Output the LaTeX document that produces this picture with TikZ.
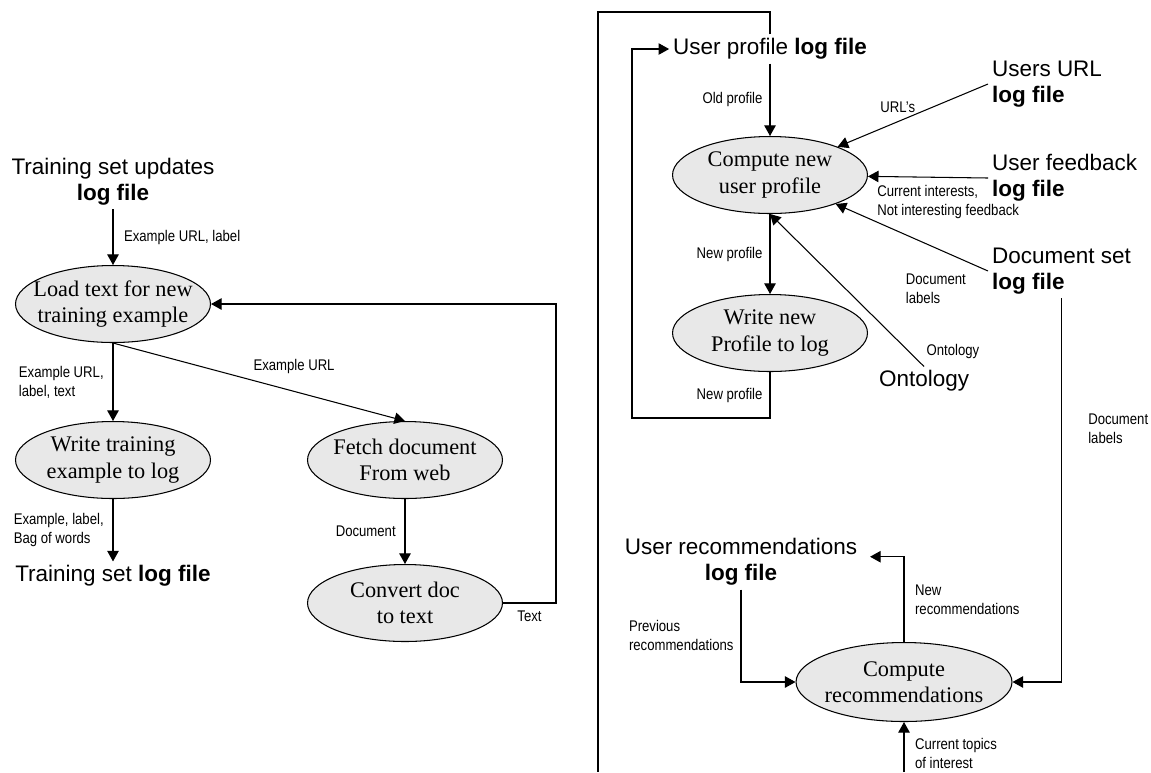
\documentclass[tikz,border=0pt]{standalone}
\usepackage{fontspec}
\setmainfont{Liberation Serif}
\newfontfamily\storefont{Liberation Sans}
\newfontfamily\flowfont[FakeStretch=0.85]{Liberation Sans}
\usetikzlibrary{shapes.geometric}
\usetikzlibrary{positioning}
\usetikzlibrary{arrows.meta}
\definecolor{procfill}{HTML}{E8E8E8}
\tikzset{
    proc/.style={
        ellipse,
        draw,
        fill=procfill,
        minimum width=3.9cm,
        minimum height=1.54cm,
        inner sep=0pt},
    proctext/.style={
        align=center,
        font=\fontsize{12.7}{15}\selectfont},
    store/.style={
        align=center,
        inner sep=2pt,
        font=\storefont\fontsize{12.8}{14.7}\selectfont},
    flow/.style={
        align=left,
        inner sep=1pt,
        font=\flowfont\fontsize{8.8}{10.8}\selectfont},
    every edge/.style={
        draw,
        ->,>={Triangle[length=6pt,width=6.5pt]},
        line width=0.6pt}}

\begin{document}
\begin{tikzpicture}[x=0.02cm,y=-0.02cm,line width=0.6pt,>={Triangle[length=6pt,width=6.5pt]}]
    \useasboundingbox (0,0) rectangle (1151,772);

    % training set side
    \node[store] (tsu) at (113,182) {Training set updates\\\textbf{log file}};
    \node[proc,label={[proctext]center:Load text for new\\training example}] (load) at (113,304) {};
    \node[proc,label={[proctext]center:Write training\\example to log}] (wtrain) at (113,460) {};
    \node[store] (tset) at (113,576) {Training set \textbf{log file}};
    \node[proc,label={[proctext]center:Fetch document\\From web}] (fetch) at (405,460) {};
    \node[proc,label={[proctext]center:Convert doc\\to text}] (convert) at (405,603) {};
    \coordinate (textr) at (556,304);

    \draw (tsu) edge node[flow,right=5pt] {Example URL, label} (load);
    \draw (load) edge node[flow,left=4pt] {Example URL,\\label, text} (wtrain);
    \draw (load.south) edge node[flow,pos=0.62,above=9pt] {Example URL} (fetch.north);
    \draw (wtrain) edge node[flow,left=4pt] {Example, label,\\Bag of words} (tset);
    \draw (fetch) edge node[flow,left=4pt] {Document} (convert);
    \draw[->] (convert.east) -| node[flow,pos=0.25,below=3pt] {Text} (textr) -- (load.east);

    % user profile side
    \coordinate (topl) at (598,12);
    \coordinate (botl) at (598,772);
    \coordinate (loopl) at (632,418);
    \coordinate (topics) at (904,772);
    \node[store] (upl) at (770,49) {User profile \textbf{log file}};
    \node[store,align=left,anchor=west] (uurl) at (988,84) {Users URL\\\textbf{log file}};
    \node[store,align=left,anchor=west] (ufb) at (988,178) {User feedback\\\textbf{log file}};
    \node[store,align=left,anchor=west] (dset) at (988,271) {Document set\\\textbf{log file}};
    \node[store] (onto) at (924,381) {Ontology};
    \node[proc,label={[proctext]center:Compute new\\user profile}] (cnew) at (770,175) {};
    \node[proc,label={[proctext]center:Write new\\Profile to log}] (wnew) at (770,333) {};
    \node[store] (urec) at (741,562) {User recommendations\\\textbf{log file}};
    \node[proc,minimum width=4.32cm,minimum height=1.58cm,
        label={[proctext]center:Compute\\recommendations}] (crec) at (904,682) {};

    \draw (upl.north) |- (topl) -- (botl);
    \draw (upl) edge node[flow,left=3pt] {Old profile} (cnew);
    \draw (uurl.west) edge node[flow,pos=0.6,above=4pt] {URL’s} (cnew);
    \draw (ufb.west) edge node[flow,pos=1,anchor=north west,xshift=4pt,yshift=-4pt] {Current interests,\\Not interesting feedback} (cnew);
    \draw (dset.west) edge node[flow,pos=0.25,below=10pt,xshift=-8pt] {Document\\labels} (cnew);
    \draw (onto.north) edge node[flow,pos=0.1,right=9pt] {Ontology} (cnew.south);
    \draw (cnew) edge node[flow,left=3pt] {New profile} (wnew);
    \draw[->] (wnew.south) |- node[flow,pos=0.25,left=3pt] {New profile} (loopl) |- (upl.west);
    \draw[->] (urec.south) |- node[flow,pos=0.25,left=3pt] {Previous\\recommendations} (crec.west);
    \draw[->] (crec.north) |- node[flow,pos=0.25,right=5pt] {New\\recommendations} ([xshift=5pt,yshift=3pt]urec.east);
    \draw[->] (dset.south) |- node[flow,pos=0.17,right=14pt] {Document\\labels} (crec.east);
    \draw (topics) edge node[flow,pos=0.38,right=5pt] {Current topics\\of interest} (crec);
\end{tikzpicture}
\end{document}
